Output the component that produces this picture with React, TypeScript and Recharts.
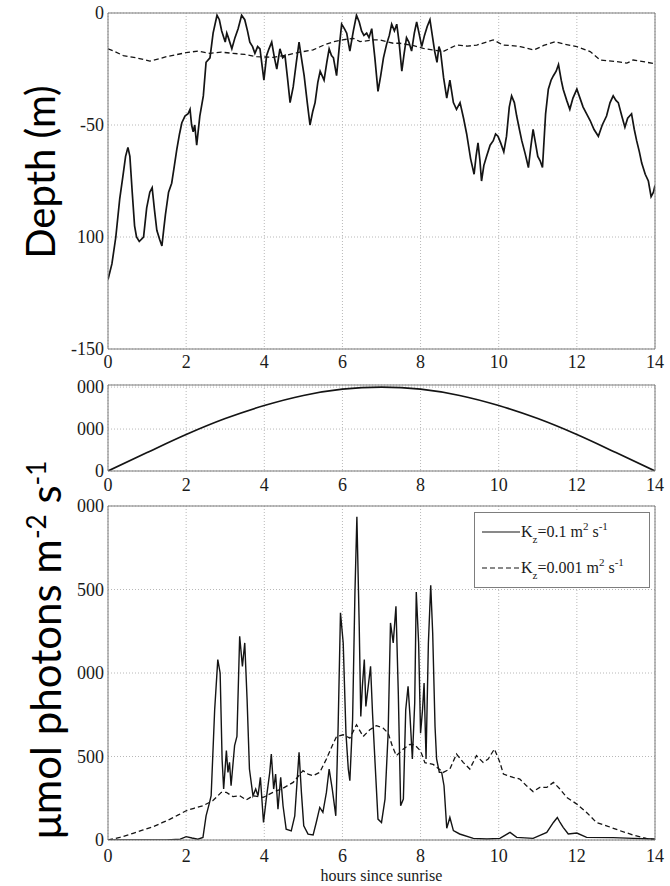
import { CartesianGrid, Legend, Line, LineChart, XAxis, YAxis } from "recharts";

const HOUR_TICKS = [0, 2, 4, 6, 8, 10, 12, 14];
const DEPTH_TICKS = [-150, -100, -50, 0];
const SURFACE_TICKS = [0, 1000, 2000];
const LIGHT_TICKS = [0, 500, 1000, 1500, 2000];

// [hours since sunrise, depth (m)]
const depthKz01: [number, number][] = [
  [0, -119], [0.1, -112], [0.2, -100], [0.3, -83], [0.38, -73], [0.45, -64], [0.51, -60], [0.56, -64],
  [0.62, -80], [0.68, -95], [0.73, -100], [0.8, -102], [0.91, -100], [0.99, -87], [1.07, -80], [1.13, -78],
  [1.19, -88], [1.25, -97], [1.32, -101], [1.38, -104], [1.43, -96], [1.47, -90], [1.55, -80], [1.63, -76],
  [1.7, -68], [1.76, -61], [1.83, -54], [1.89, -49], [1.97, -46], [2.05, -45], [2.1, -43], [2.14, -50],
  [2.18, -53], [2.22, -50], [2.27, -59], [2.35, -46], [2.44, -37], [2.51, -22], [2.61, -20], [2.69, -9],
  [2.79, -1], [2.85, -3], [2.91, -8], [3.0, -13], [3.04, -9], [3.08, -11], [3.17, -16], [3.25, -11],
  [3.33, -7], [3.42, -1], [3.5, -3], [3.57, -8], [3.63, -13], [3.7, -15], [3.76, -18], [3.83, -15],
  [3.89, -16], [3.99, -30], [4.06, -19], [4.12, -16], [4.19, -13], [4.26, -20], [4.32, -25], [4.4, -16],
  [4.47, -20], [4.53, -19], [4.6, -30], [4.66, -40], [4.74, -33], [4.82, -22], [4.89, -13], [4.95, -20],
  [5.02, -28], [5.1, -40], [5.17, -50], [5.24, -44], [5.3, -40], [5.37, -31], [5.43, -26], [5.53, -30],
  [5.6, -22], [5.66, -16], [5.72, -19], [5.77, -20], [5.85, -28], [5.92, -15], [5.98, -5], [6.05, -7],
  [6.11, -9], [6.19, -17], [6.28, -8], [6.36, -1], [6.43, -4], [6.49, -8], [6.55, -10], [6.62, -9],
  [6.68, -11], [6.75, -7], [6.83, -20], [6.91, -35], [6.98, -28], [7.05, -20], [7.13, -14], [7.2, -10],
  [7.26, -5], [7.33, -8], [7.39, -5], [7.45, -13], [7.52, -26], [7.58, -18], [7.64, -11], [7.7, -13],
  [7.77, -17], [7.84, -9], [7.9, -4], [7.96, -9], [8.03, -15], [8.1, -10], [8.17, -6], [8.24, -3],
  [8.3, -10], [8.36, -17], [8.42, -22], [8.47, -15], [8.51, -17], [8.59, -29], [8.67, -38], [8.75, -30],
  [8.84, -40], [8.92, -43], [9.01, -40], [9.1, -47], [9.18, -54], [9.28, -65], [9.37, -72], [9.42, -64],
  [9.47, -58], [9.52, -66], [9.56, -75], [9.62, -68], [9.69, -64], [9.78, -59], [9.86, -57], [9.92, -54],
  [9.98, -55], [10.05, -58], [10.13, -62], [10.2, -55], [10.27, -42], [10.33, -37], [10.4, -40], [10.46, -46],
  [10.53, -52], [10.59, -57], [10.68, -63], [10.76, -69], [10.82, -60], [10.88, -52], [10.94, -58], [11.0, -64],
  [11.06, -66], [11.12, -69], [11.2, -45], [11.27, -34], [11.34, -30], [11.4, -28], [11.47, -26], [11.53, -23],
  [11.6, -30], [11.65, -34], [11.74, -39], [11.82, -43], [11.9, -38], [12.0, -34], [12.08, -38], [12.16, -42],
  [12.25, -45], [12.34, -48], [12.44, -52], [12.55, -55], [12.65, -50], [12.76, -46], [12.85, -40], [12.93, -37],
  [13.0, -39], [13.06, -40], [13.15, -46], [13.23, -51], [13.3, -47], [13.4, -45], [13.47, -52], [13.53, -57],
  [13.6, -62], [13.66, -67], [13.75, -72], [13.83, -75], [13.9, -82], [13.96, -80], [14, -77],
];

const depthKz0001: [number, number][] = [
  [0, -16], [0.15, -17], [0.39, -19], [0.73, -20], [1.07, -21.5], [1.3, -20.5], [1.5, -19.5], [2.0, -17.7],
  [2.3, -17], [2.6, -18], [2.9, -17.5], [3.2, -18], [3.5, -18.5], [3.8, -19.5], [4.23, -19.8], [4.57, -18.8],
  [4.9, -17.5], [5.25, -16.5], [5.5, -14.5], [5.77, -12.8], [6.0, -12], [6.28, -11.3], [6.45, -12.8], [6.8, -12],
  [6.96, -12], [7.3, -13.5], [7.47, -13.5], [7.8, -14.5], [8.07, -15.8], [8.3, -16.5], [8.58, -17.2], [8.92, -14.3],
  [9.2, -14.8], [9.44, -14.3], [9.86, -12], [10.11, -14.3], [10.3, -14.5], [10.55, -15], [10.9, -16.5], [11.15, -14.5],
  [11.44, -12.8], [11.7, -14], [12.0, -15], [12.34, -17.2], [12.6, -21], [12.8, -21.3], [13.02, -21.7], [13.28, -22.4],
  [13.44, -21], [13.7, -21.7], [14, -22.7],
];

// [hours since sunrise, surface irradiance]
const surfaceLight: [number, number][] = [
  [0, 0], [1, 440], [2, 870], [3, 1250], [4, 1560], [5, 1800], [6, 1950], [7, 2000],
  [8, 1950], [9, 1800], [10, 1560], [11, 1250], [12, 870], [13, 440], [14, 0],
];

// [hours since sunrise, irradiance seen by the cell]
const lightKz01: [number, number][] = [
  [0, 0], [0.5, 0], [1, 0], [1.5, 0], [1.85, 5], [2.0, 20], [2.15, 12], [2.3, 5], [2.43, 15], [2.51, 145],
  [2.6, 225], [2.64, 265], [2.73, 780], [2.81, 1080], [2.87, 1000], [2.92, 485], [2.96, 305], [3.03, 535],
  [3.07, 405], [3.11, 465], [3.15, 325], [3.24, 565], [3.3, 620], [3.37, 1220], [3.44, 1040], [3.5, 1180],
  [3.56, 840], [3.62, 425], [3.71, 265], [3.78, 305], [3.84, 265], [3.9, 375], [3.98, 105], [4.05, 245],
  [4.14, 405], [4.18, 515], [4.24, 305], [4.29, 395], [4.35, 185], [4.42, 375], [4.48, 205], [4.56, 65],
  [4.69, 55], [4.78, 145], [4.89, 525], [4.95, 285], [5.01, 85], [5.12, 35], [5.25, 30], [5.33, 105],
  [5.42, 195], [5.5, 165], [5.59, 285], [5.66, 425], [5.74, 305], [5.83, 145], [5.89, 680], [5.95, 1360],
  [6.02, 1180], [6.09, 640], [6.15, 425], [6.19, 355], [6.26, 720], [6.32, 1480], [6.37, 1935], [6.43, 1280],
  [6.47, 740], [6.51, 920], [6.56, 1080], [6.6, 800], [6.66, 920], [6.72, 1040], [6.77, 760], [6.83, 485],
  [6.91, 125], [7.0, 105], [7.09, 245], [7.17, 640], [7.23, 1300], [7.3, 1180], [7.37, 1400], [7.43, 880],
  [7.49, 205], [7.56, 245], [7.62, 780], [7.68, 920], [7.73, 740], [7.79, 485], [7.85, 820], [7.89, 1485],
  [7.95, 1180], [8.0, 640], [8.05, 780], [8.09, 940], [8.14, 485], [8.2, 1180], [8.26, 1525], [8.31, 1240],
  [8.37, 680], [8.41, 485], [8.48, 405], [8.54, 405], [8.6, 325], [8.67, 70], [8.75, 135], [8.84, 56],
  [9.0, 36], [9.35, 10], [9.7, 6], [10.03, 10], [10.29, 46], [10.46, 16], [10.88, 10], [11.23, 46],
  [11.4, 105], [11.5, 135], [11.57, 105], [11.65, 76], [11.78, 36], [12.0, 42], [12.25, 16], [12.93, 14],
  [13.44, 10], [14, 6],
];

const lightKz0001: [number, number][] = [
  [0, 0], [0.3, 15], [0.64, 40], [0.9, 60], [1.16, 80], [1.4, 105], [1.59, 125], [1.8, 150], [2.0, 175],
  [2.2, 190], [2.43, 205], [2.68, 235], [2.9, 285], [3.03, 285], [3.2, 260], [3.37, 265], [3.54, 240],
  [3.71, 265], [3.97, 255], [4.22, 285], [4.48, 310], [4.74, 345], [4.99, 415], [5.12, 395], [5.25, 385],
  [5.42, 405], [5.59, 485], [5.75, 570], [5.85, 620], [6.02, 630], [6.19, 610], [6.36, 690], [6.53, 620],
  [6.7, 660], [6.87, 685], [7.04, 670], [7.17, 640], [7.28, 560], [7.38, 505], [7.56, 545], [7.73, 573],
  [7.85, 570], [8.0, 533], [8.11, 463], [8.32, 453], [8.58, 405], [8.75, 425], [8.92, 515], [9.09, 465],
  [9.26, 425], [9.43, 505], [9.6, 465], [9.73, 485], [9.89, 545], [10.03, 465], [10.12, 395], [10.37, 375],
  [10.54, 365], [10.71, 325], [10.88, 290], [11.05, 315], [11.23, 315], [11.4, 345], [11.57, 305], [11.74, 255],
  [12.0, 215], [12.25, 165], [12.5, 105], [12.76, 85], [13.1, 56], [13.44, 30], [13.78, 10], [14, 0],
];

const legendEntries = [
  { name: "Kz=0.1", coef: "0.1", dash: undefined as string | undefined },
  { name: "Kz=0.001", coef: "0.001", dash: "5 3" },
];

const toRows = (pts: [number, number][]) => pts.map(([h, v]) => ({ h, v }));

const SERIF = "'Liberation Serif', 'Times New Roman', Times, serif";
const AXIS = "#7d7d7d";
const GRID = "#b8b8b8";
const INK = "#141414";

// recharts drops fontFamily from a plain tick object, so draw the text ourselves
function SerifTick({ x, y, payload, textAnchor, verticalAnchor }: any) {
  const dy = verticalAnchor === "start" ? "0.71em" : verticalAnchor === "end" ? "0" : "0.355em";
  return (
    <text x={x} y={y} dy={dy} textAnchor={textAnchor} fill="#1a1a1a" fontSize={18} style={{ fontFamily: SERIF }}>
      {payload.value}
    </text>
  );
}

function HoursLabel({ viewBox }: any) {
  const { x, y, width, height } = viewBox;
  return (
    <text x={x + width / 2} y={y + height - 5} textAnchor="middle" fill="#1a1a1a" fontSize={16} style={{ fontFamily: SERIF }}>
      hours since sunrise
    </text>
  );
}

function frame(yDomain: [number, number], yTicks: number[], xTickMargin: number, xHeight: number, xLabel?: boolean) {
  return [
    <CartesianGrid key="grid" stroke={GRID} strokeDasharray="1 2" />,
    <XAxis
      key="x"
      dataKey="h"
      type="number"
      domain={[0, 14]}
      ticks={HOUR_TICKS}
      allowDataOverflow
      interval={0}
      height={xHeight}
      tickLine={false}
      tickSize={0}
      tickMargin={xTickMargin}
      tick={<SerifTick />}
      axisLine={{ stroke: AXIS }}
      label={xLabel ? <HoursLabel /> : undefined}
    />,
    <XAxis key="xin" xAxisId="in" type="number" domain={[0, 14]} ticks={HOUR_TICKS} allowDataOverflow interval={0}
      mirror tick={false} tickSize={5} tickLine={{ stroke: AXIS }} axisLine={false} />,
    <XAxis key="xtop" xAxisId="top" orientation="top" type="number" domain={[0, 14]} ticks={HOUR_TICKS} allowDataOverflow
      interval={0} mirror tick={false} tickSize={5} tickLine={{ stroke: AXIS }} axisLine={{ stroke: AXIS }} />,
    <YAxis
      key="y"
      type="number"
      domain={yDomain}
      ticks={yTicks}
      allowDataOverflow
      interval={0}
      width={60}
      tickLine={false}
      tickSize={0}
      tickMargin={4}
      tick={<SerifTick />}
      axisLine={{ stroke: AXIS }}
    />,
    <YAxis key="yin" yAxisId="in" type="number" domain={yDomain} ticks={yTicks} allowDataOverflow interval={0}
      mirror tick={false} tickSize={5} tickLine={{ stroke: AXIS }} axisLine={false} />,
    <YAxis key="yr" yAxisId="r" orientation="right" type="number" domain={yDomain} ticks={yTicks} allowDataOverflow
      interval={0} mirror tick={false} tickSize={5} tickLine={{ stroke: AXIS }} axisLine={{ stroke: AXIS }} />,
  ];
}

function LegendBox({ payload }: any) {
  const items = payload ?? [];
  const sup = { fontSize: 11, verticalAlign: 7 };
  return (
    <div
      style={{
        border: `1px solid ${AXIS}`,
        background: "#fff",
        height: 73,
        paddingTop: 1,
        fontFamily: SERIF,
        fontSize: 16,
        color: "#1a1a1a",
      }}
    >
      {legendEntries.map((info) => {
        const entry = items.find((p: any) => p.value === info.name);
        const dash = entry?.payload?.strokeDasharray ?? info.dash;
        return (
          <div key={info.name} style={{ display: "flex", alignItems: "center", height: 36, paddingLeft: 7 }}>
            <svg width={39} height={10} style={{ flex: "none" }}>
              <line x1={0} y1={5} x2={38} y2={5} stroke={INK} strokeWidth={1.2} strokeDasharray={dash} />
            </svg>
            <span style={{ whiteSpace: "nowrap", lineHeight: "16px" }}>
              K<sub style={{ fontSize: 11, verticalAlign: -6 }}>z</sub>={info.coef} m<sup style={sup}>2</sup> s
              <sup style={sup}>-1</sup>
            </span>
          </div>
        );
      })}
    </div>
  );
}

const bigLabel = {
  position: "absolute" as const,
  transform: "translate(-50%, -50%) rotate(-90deg)",
  whiteSpace: "nowrap" as const,
  fontFamily: "Lato, 'Open Sans', sans-serif",
  lineHeight: "50px",
  color: "#000",
};

export default function App() {
  const margin = { left: 48, right: 15, bottom: 0 };
  return (
    <div style={{ position: "absolute", left: 0, top: 0, width: 670, height: 886, background: "#fff", overflow: "hidden" }}>
      <div style={{ position: "absolute", left: 0, top: 0 }}>
        <LineChart width={670} height={374} margin={{ ...margin, top: 13 }}>
          {frame([-150, 0], DEPTH_TICKS, 6.5, 25)}
          <Line data={toRows(depthKz0001)} dataKey="v" type="linear" stroke={INK} strokeWidth={1.3}
            strokeDasharray="5 3" dot={false} isAnimationActive={false} />
          <Line data={toRows(depthKz01)} dataKey="v" type="linear" stroke={INK} strokeWidth={1.7}
            dot={false} isAnimationActive={false} />
        </LineChart>
      </div>

      <div style={{ position: "absolute", left: 0, top: 374 }}>
        <LineChart width={670} height={122} margin={{ ...margin, top: 11 }}>
          {frame([0, 2050], SURFACE_TICKS, 7.5, 25)}
          <Line data={toRows(surfaceLight)} dataKey="v" type="monotone" stroke={INK} strokeWidth={1.7}
            dot={false} isAnimationActive={false} />
        </LineChart>
      </div>

      <div style={{ position: "absolute", left: 0, top: 496 }}>
        <LineChart width={670} height={390} margin={{ ...margin, top: 10 }}>
          {frame([0, 2000], LIGHT_TICKS, 9, 46, true)}
          <Line data={toRows(lightKz01)} name="Kz=0.1" dataKey="v" type="linear" stroke={INK} strokeWidth={1.4}
            dot={false} isAnimationActive={false} />
          <Line data={toRows(lightKz0001)} name="Kz=0.001" dataKey="v" type="linear" stroke={INK} strokeWidth={1.3}
            strokeDasharray="5 3" dot={false} isAnimationActive={false} />
          <Legend layout="vertical" align="center" verticalAlign="middle"
            wrapperStyle={{ left: 474, top: 16, width: 176 }} content={<LegendBox />} />
        </LineChart>
      </div>

      <div style={{ position: "absolute", left: 0, top: 30, width: 78, height: 284, background: "#fff" }} />
      <div style={{ ...bigLabel, left: 40, top: 172, fontSize: 40 }}>Depth (m)</div>

      <div style={{ position: "absolute", left: 0, top: 380, width: 77, height: 506, background: "#fff" }} />
      <div style={{ ...bigLabel, left: 40, top: 650, fontSize: 42 }}>
        μmol photons m<sup style={{ fontSize: 26, verticalAlign: 15 }}>-2</sup> s
        <sup style={{ fontSize: 26, verticalAlign: 15 }}>-1</sup>
      </div>
    </div>
  );
}
